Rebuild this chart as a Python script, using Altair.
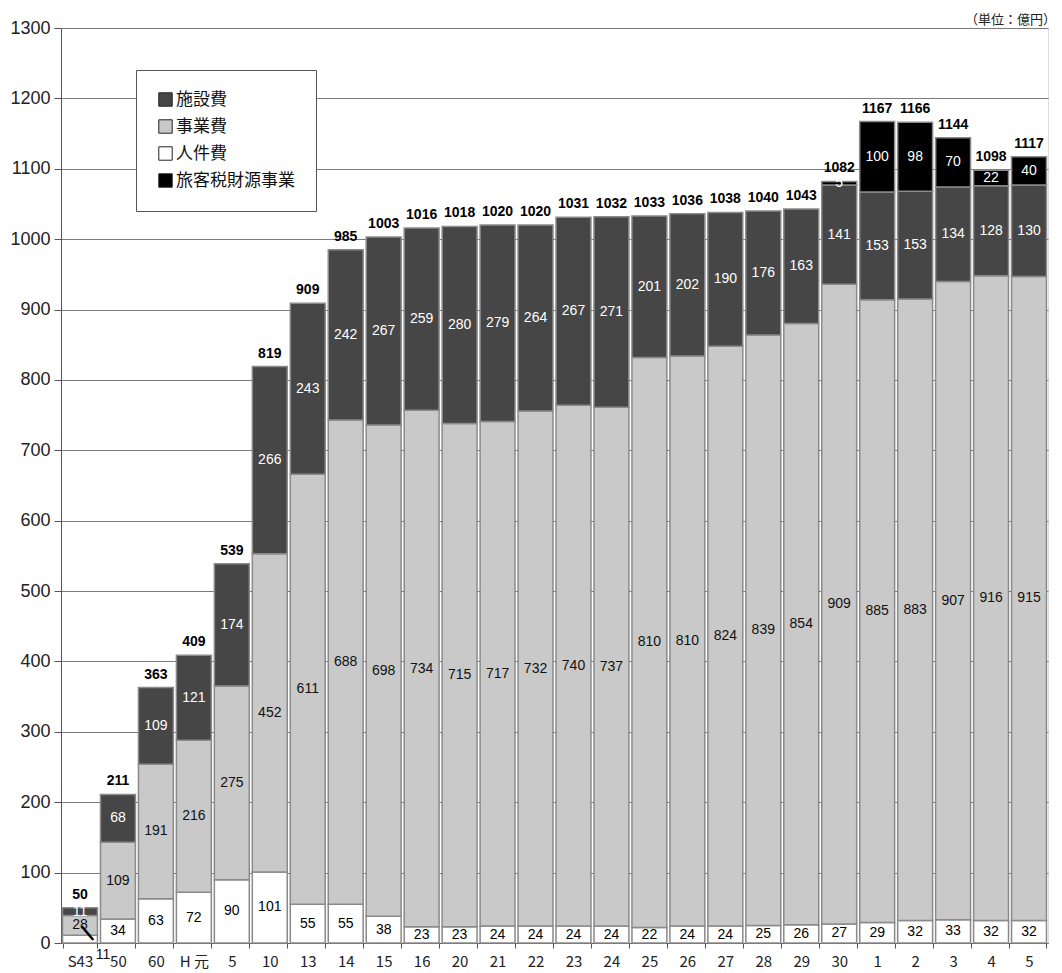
import altair as alt
import pandas as pd

# Fiscal-year keys (unique) and the labels shown under each bar
keys = ["S43", "S50", "S60", "H1", "H5", "H10", "H13", "H14", "H15", "H16",
        "H20", "H21", "H22", "H23", "H24", "H25", "H26", "H27", "H28", "H29",
        "H30", "R1", "R2", "R3", "R4", "R5"]
tick_labels = ["S43", "50", "60", "H 元", "5", "10", "13", "14", "15", "16",
               "20", "21", "22", "23", "24", "25", "26", "27", "28", "29",
               "30", "1", "2", "3", "4", "5"]

# Budget components (億円)
personnel = [11, 34, 63, 72, 90, 101, 55, 55, 38, 23, 23, 24, 24, 24, 24,
             22, 24, 24, 25, 26, 27, 29, 32, 33, 32, 32]
business = [28, 109, 191, 216, 275, 452, 611, 688, 698, 734, 715, 717, 732,
            740, 737, 810, 810, 824, 839, 854, 909, 885, 883, 907, 916, 915]
facility = [11, 68, 109, 121, 174, 266, 243, 242, 267, 259, 280, 279, 264,
            267, 271, 201, 202, 190, 176, 163, 141, 153, 153, 134, 128, 130]
tourist_tax = [0, 0, 0, 0, 0, 0, 0, 0, 0, 0, 0, 0, 0, 0, 0,
               0, 0, 0, 0, 0, 5, 100, 98, 70, 22, 40]
totals = [50, 211, 363, 409, 539, 819, 909, 985, 1003, 1016, 1018, 1020, 1020,
          1031, 1032, 1033, 1036, 1038, 1040, 1043, 1082, 1167, 1166, 1144,
          1098, 1117]

series_names = ["人件費", "事業費", "施設費", "旅客税財源事業"]   # bottom to top
legend_order = ["施設費", "事業費", "人件費", "旅客税財源事業"]
legend_colors = ["#464646", "#c9c9c9", "#ffffff", "#000000"]
text_colors = {"人件費": "#000000", "事業費": "#111111",
               "施設費": "#ffffff", "旅客税財源事業": "#ffffff"}

rows = []
for i, k in enumerate(keys):
    for order, (name, vals) in enumerate(zip(series_names,
                                             [personnel, business, facility, tourist_tax])):
        v = vals[i]
        if v > 0:
            rows.append({"key": k, "series": name, "value": v, "order": order,
                         "tcolor": text_colors[name],
                         "outside": (k == "S43" and name == "人件費")})
seg = pd.DataFrame(rows)
tot = pd.DataFrame({"key": keys, "total": totals})

label_expr = " : ".join(f"datum.value == '{k}' ? '{t}'" for k, t in zip(keys, tick_labels)) + " : ''"

FONT = "Liberation Sans"
JP = "Noto Sans CJK JP"

x_enc = alt.X("key:N", sort=keys, title=None,
              scale=alt.Scale(paddingInner=0.08, paddingOuter=0.04),
              axis=alt.Axis(labelExpr=label_expr, labelAngle=0, labelFontSize=15,
                            labelFont=JP, labelColor="#222", labelPadding=6,
                            tickBand="extent", tickSize=5, tickColor="#555",
                            domainColor="#555", grid=False))
y_scale = alt.Scale(domain=[0, 1300], nice=False)

base = alt.Chart(seg).transform_stack(
    stack="value", groupby=["key"], sort=[alt.SortField("order")], as_=["y0", "y1"]
).transform_calculate(mid="(datum.y0 + datum.y1) / 2")

bars = base.mark_bar(stroke="#8a8a8a", strokeWidth=1.5).encode(
    x=x_enc,
    y=alt.Y("y0:Q", scale=y_scale, title=None,
            axis=alt.Axis(values=list(range(0, 1301, 100)), format="d",
                          labelFontSize=18, labelFont=FONT, labelColor="#222",
                          tickSize=7, tickColor="#555", domainColor="#555",
                          gridColor="#7a7a7a", gridWidth=1, labelPadding=4)),
    y2="y1:Q",
    color=alt.Color("series:N", scale=alt.Scale(domain=legend_order, range=legend_colors),
                    legend=alt.Legend(title=None, orient="none", legendX=75, legendY=42,
                                      direction="vertical", labelFont=JP, labelFontSize=17,
                                      labelColor="#111", symbolType="square",
                                      symbolSize=180, symbolStrokeColor="#222",
                                      symbolStrokeWidth=1, symbolOpacity=1,
                                      rowPadding=8, padding=21, fillColor="#ffffff",
                                      strokeColor="#555", labelOffset=2,
                                      symbolOffset=0, labelLimit=300)),
)

seg_labels = base.transform_filter("!datum.outside").mark_text(
    font=FONT, fontSize=14, baseline="middle"
).encode(
    x=alt.X("key:N", sort=keys),
    y=alt.Y("mid:Q", scale=y_scale),
    text="value:Q",
    color=alt.Color("tcolor:N", scale=None),
)

outside_label = base.transform_filter("datum.outside").mark_text(
    font=FONT, fontSize=14, dx=23, dy=12, color="#111"
).encode(x=alt.X("key:N", sort=keys), y=alt.Y("y0:Q", scale=y_scale), text="value:Q")

leader = base.transform_filter("datum.outside").mark_text(
    font=FONT, fontSize=19, fontWeight="bold", angle=320, dx=12, dy=-4, color="#000"
).encode(x=alt.X("key:N", sort=keys), y=alt.Y("y0:Q", scale=y_scale), text=alt.value("|"))

total_labels = alt.Chart(tot).mark_text(
    font=FONT, fontSize=14, fontWeight="bold", dy=-13, color="#000"
).encode(x=alt.X("key:N", sort=keys), y=alt.Y("total:Q", scale=y_scale), text="total:Q")

chart = alt.layer(bars, seg_labels, outside_label, leader, total_labels).properties(
    width=987, height=915,
    title=alt.TitleParams("（単位：億円）", anchor="end", font=JP, fontSize=13,
                          fontWeight="normal", color="#222", dx=8, offset=0, dy=8),
    autosize=alt.AutoSizeParams(type="none"),
    padding={"left": 61, "top": 28, "right": 14, "bottom": 30},
).configure_view(stroke="#666", strokeWidth=1).configure(background="#ffffff")

chart.save("out.html", embed_options={"renderer": "svg", "actions": False})
